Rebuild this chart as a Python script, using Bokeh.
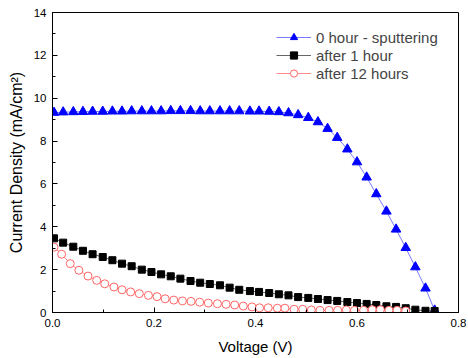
from bokeh.plotting import figure
from bokeh.embed import file_html
from bokeh.resources import INLINE
from bokeh.models import SingleIntervalTicker, PrintfTickFormatter, Legend

voltage = [0.003, 0.021, 0.041, 0.060, 0.079, 0.099, 0.118, 0.137, 0.156, 0.176,
           0.195, 0.214, 0.233, 0.252, 0.272, 0.291, 0.310, 0.330, 0.349, 0.368,
           0.389, 0.407, 0.427, 0.446, 0.465, 0.484, 0.504, 0.523, 0.542, 0.561,
           0.581, 0.600, 0.619, 0.638, 0.658, 0.677, 0.696, 0.715, 0.735, 0.753]

j_0h = [9.33, 9.35, 9.36, 9.37, 9.38, 9.38, 9.39, 9.39, 9.40, 9.40,
        9.40, 9.40, 9.41, 9.41, 9.41, 9.40, 9.40, 9.40, 9.40, 9.40,
        9.39, 9.39, 9.38, 9.36, 9.31, 9.22, 9.09, 8.89, 8.58, 8.16,
        7.62, 7.02, 6.31, 5.53, 4.72, 3.88, 3.02, 2.12, 1.13, 0.10]

j_1h = [3.46, 3.26, 3.07, 2.88, 2.72, 2.59, 2.44, 2.28, 2.16, 2.00,
        1.89, 1.78, 1.69, 1.58, 1.47, 1.39, 1.33, 1.27, 1.16, 1.06,
        1.00, 0.96, 0.91, 0.85, 0.80, 0.72, 0.68, 0.63, 0.58, 0.54,
        0.49, 0.44, 0.40, 0.35, 0.29, 0.26, 0.20, 0.13, 0.08, 0.07]

voltage_12h = [0.003, 0.018, 0.035, 0.052, 0.070, 0.087, 0.103, 0.121, 0.137, 0.154,
               0.171, 0.189, 0.206, 0.222, 0.239, 0.256, 0.273, 0.290, 0.307, 0.325,
               0.342, 0.359, 0.376, 0.393, 0.408, 0.425, 0.443, 0.458, 0.476, 0.493,
               0.510, 0.527, 0.545, 0.562, 0.579, 0.595, 0.613, 0.630, 0.646, 0.663,
               0.679, 0.696]
j_12h = [3.05, 2.72, 2.28, 1.97, 1.70, 1.50, 1.34, 1.19, 1.06, 0.96,
         0.88, 0.80, 0.74, 0.64, 0.58, 0.54, 0.52, 0.48, 0.44, 0.41,
         0.38, 0.35, 0.30, 0.26, 0.22, 0.22, 0.20, 0.20, 0.15, 0.15,
         0.12, 0.10, 0.10, 0.10, 0.12, 0.10, 0.10, 0.13, 0.13, 0.10,
         0.10, 0.07]

labels = ["0 hour - sputtering", "after 1 hour", "after 12 hours"]

FONT = "Liberation Sans"

p = figure(width=468, height=358, x_range=(0, 0.8), y_range=(0, 14),
           output_backend="svg", toolbar_location=None,
           min_border_left=52, min_border_right=10, min_border_top=12, min_border_bottom=46)
p.xgrid.visible = False
p.ygrid.visible = False
p.outline_line_color = "black"
p.outline_line_width = 1
p.background_fill_color = "white"
p.border_fill_color = "white"

r1l = p.line(voltage, j_0h, line_color="#7a7aff", line_width=1)
r1s = p.scatter(voltage, j_0h, marker="triangle", size=9.5, fill_color="blue", line_color="blue")
r2l = p.line(voltage, j_1h, line_color="#666666", line_width=1)
r2s = p.scatter(voltage, j_1h, marker="square", size=7, fill_color="black", line_color="black")
r3l = p.line(voltage_12h, j_12h, line_color="#ff8a8a", line_width=1)
r3s = p.scatter(voltage_12h, j_12h, marker="circle", size=8, fill_color="white", line_color="#ff6666")

legend = Legend(items=[(labels[0], [r1l, r1s]), (labels[1], [r2l, r2s]), (labels[2], [r3l, r3s])],
                location=(224, 230), padding=0, margin=0, spacing=0,
                glyph_width=35, glyph_height=18, label_height=18, label_standoff=5,
                border_line_color=None, background_fill_alpha=0,
                label_text_font=FONT, label_text_font_size="15px")
p.add_layout(legend)

p.xaxis.ticker = SingleIntervalTicker(interval=0.2, num_minor_ticks=2)
p.yaxis.ticker = SingleIntervalTicker(interval=2, num_minor_ticks=2)
p.xaxis.formatter = PrintfTickFormatter(format="%.1f")
for ax in (p.xaxis, p.yaxis):
    ax.major_tick_in = 5
    ax.major_tick_out = 0
    ax.minor_tick_in = 3
    ax.minor_tick_out = 0
    ax.axis_line_color = "black"
    ax.major_tick_line_color = "black"
    ax.minor_tick_line_color = "black"
    ax.major_label_text_font = FONT
    ax.major_label_text_font_size = "11.5px"
    ax.major_label_text_color = "black"
    ax.axis_label_text_font = FONT
    ax.axis_label_text_font_style = "normal"
    ax.axis_label_text_color = "black"
p.xaxis.axis_label_text_font_size = "15px"
p.yaxis.axis_label_text_font_size = "16px"
p.xaxis.axis_label = "Voltage (V)"
p.yaxis.axis_label = "Current Density (mA/cm²)"
p.xaxis.major_label_standoff = 6
p.xaxis.axis_label_standoff = 8
p.yaxis.major_label_standoff = 6
p.yaxis.axis_label_standoff = 6

open("out.html", "w").write(file_html(p, INLINE))
